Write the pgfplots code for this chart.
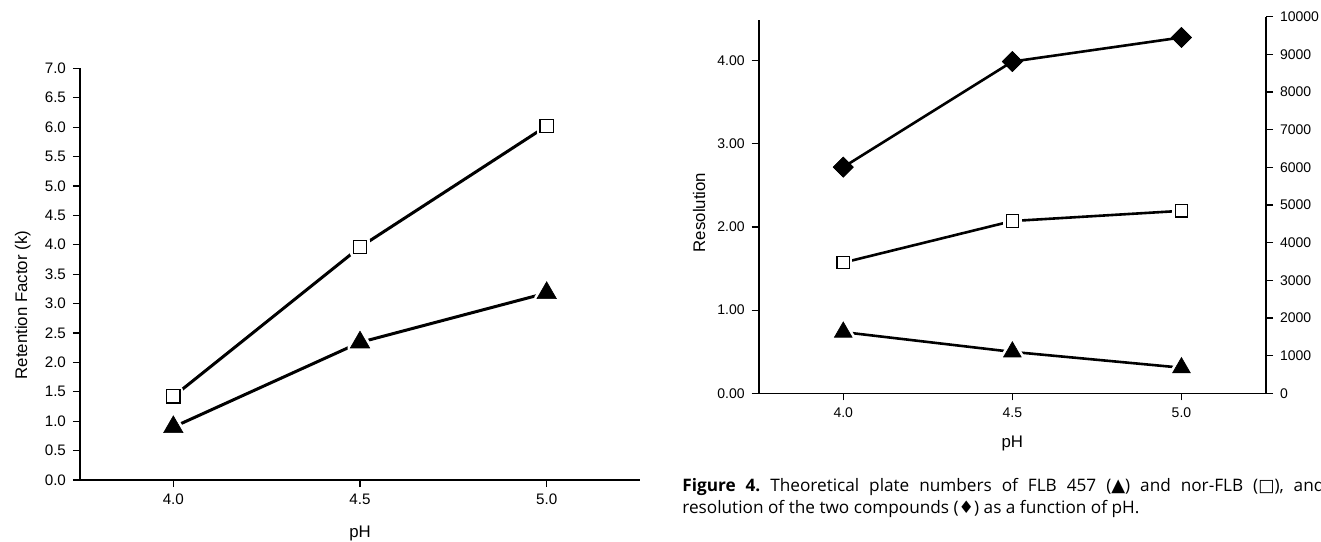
\documentclass[border=0pt]{standalone}
\usepackage{fontspec}
\setmainfont{Liberation Sans}
\newfontfamily\capfont{Open Sans}
\newfontfamily\symfont{DejaVu Sans}
\usepackage{pgfplots}
\pgfplotsset{compat=1.18}

\pgfplotsset{
  chart/.style={
    scale only axis, clip=false,
    axis x line=bottom, axis y line=left,
    axis line style={-, line width=0.8pt},
    tick align=outside, major tick length=3.5pt,
    tick style={line width=0.6pt, black},
    xmin=3.75, xmax=5.25, xtick={4,4.5,5},
    xticklabels={4.0,4.5,5.0},
    /pgf/number format/assume math mode=true,
  },
  halo/.style={only marks, mark options={draw=white, fill=white, line width=3pt, line join=round}},
}

\begin{document}
\frenchspacing
\begin{tikzpicture}
\useasboundingbox (0,0) rectangle (660.5pt,270.5pt);

% left chart: retention factor
\begin{axis}[chart, at={(40pt,30.5pt)}, anchor=south west,
  width=280pt, height=205.85pt,
  ymin=0, ymax=7, ytick={0,0.5,1,1.5,2,2.5,3,3.5,4,4.5,5,5.5,6,6.5,7},
  y tick label style={/pgf/number format/.cd, fixed, fixed zerofill, precision=1, /tikz/.cd},
  ticklabel style={font=\fontsize{7.6}{9}\selectfont},
  xlabel={pH}, ylabel={Retention Factor (k)},
  label style={font=\fontsize{8.4}{10}\selectfont},
  ylabel style={at={(axis description cs:-0.102,0.425)}, anchor=center},
  xlabel style={at={(axis description cs:0.5,-0.1385)}, anchor=base},
]
\addplot[line width=1.5pt] coordinates {(4.0,1.42) (4.5,3.96) (5.0,6.02)};
\addplot[line width=1.5pt] coordinates {(4.0,0.90) (4.5,2.34) (5.0,3.18)};
\addplot[halo, mark=square*, mark size=3.3pt] coordinates {(4.0,1.42) (4.5,3.96) (5.0,6.02)};
\addplot[halo, mark=triangle*, mark size=5.6pt] coordinates {(4.0,0.90) (4.5,2.34) (5.0,3.18)};
\addplot[only marks, mark=square*, mark size=3.3pt, mark options={draw=black, fill=white, line width=0.6pt}] coordinates {(4.0,1.42) (4.5,3.96) (5.0,6.02)};
\addplot[only marks, mark=triangle*, mark size=5.6pt, mark options={draw=black, fill=black, line width=0.3pt}] coordinates {(4.0,0.90) (4.5,2.34) (5.0,3.18)};
\end{axis}

% right chart: resolution (left axis)
\begin{axis}[chart, at={(379.35pt,73.85pt)}, anchor=south west,
  width=253.65pt, height=186.65pt,
  ymin=0, ymax=4.49, ytick={0,1,2,3,4},
  y tick label style={/pgf/number format/.cd, fixed, fixed zerofill, precision=2, /tikz/.cd},
  ticklabel style={font=\fontsize{7}{8}\selectfont},
  xlabel={pH}, ylabel={Resolution},
  label style={font=\fontsize{8.4}{10}\selectfont},
  ylabel style={at={(axis description cs:-0.1177,0.4843)}, anchor=center},
  xlabel style={at={(axis description cs:0.5,-0.1465)}, anchor=base},
]
\addplot[line width=1.3pt] coordinates {(4.0,2.72) (4.5,3.99) (5.0,4.28)};
\addplot[halo, mark=square*, mark size=3.5pt, mark options={rotate=45}] coordinates {(4.0,2.72) (4.5,3.99) (5.0,4.28)};
\addplot[only marks, mark=square*, mark size=3.5pt, mark options={rotate=45, draw=black, fill=black, line width=0.3pt}] coordinates {(4.0,2.72) (4.5,3.99) (5.0,4.28)};
\end{axis}

% right chart: plate numbers (right axis)
\begin{axis}[scale only axis, clip=false, at={(379.35pt,73.85pt)}, anchor=south west,
  width=253.65pt, height=188.3pt,
  xmin=3.75, xmax=5.25, axis x line=none, xtick=\empty,
  axis y line=right, axis line style={-, line width=0.8pt},
  tick align=outside, major tick length=3.5pt,
  tick style={line width=0.6pt, black},
  ymin=0, ymax=10000, ytick={0,1000,2000,3000,4000,5000,6000,7000,8000,9000,10000},
  scaled y ticks=false,
  /pgf/number format/assume math mode=true,
  y tick label style={/pgf/number format/.cd, fixed, 1000 sep={}, /tikz/.cd},
  ticklabel style={font=\fontsize{7}{8}\selectfont},
]
\addplot[line width=1.3pt] coordinates {(4.0,3470) (4.5,4575) (5.0,4845)};
\addplot[line width=1.3pt] coordinates {(4.0,1625) (4.5,1100) (5.0,680)};
\addplot[halo, mark=square*, mark size=3.1pt] coordinates {(4.0,3470) (4.5,4575) (5.0,4845)};
\addplot[halo, mark=triangle*, mark size=5.1pt] coordinates {(4.0,1625) (4.5,1100) (5.0,680)};
\addplot[only marks, mark=square*, mark size=3.1pt, mark options={draw=black, fill=white, line width=0.6pt}] coordinates {(4.0,3470) (4.5,4575) (5.0,4845)};
\addplot[only marks, mark=triangle*, mark size=5.1pt, mark options={draw=black, fill=black, line width=0.3pt}] coordinates {(4.0,1625) (4.5,1100) (5.0,680)};
\end{axis}

% caption, cut at the right edge as in the source
\begin{scope}
\clip (0,0) rectangle (660.5pt,270.5pt);
\node[anchor=base west, inner sep=0, font=\capfont\fontsize{8.6}{10}\selectfont] at (341pt,24.6pt)
  {\makebox[321pt][s]{\textbf{Figure 4.} Theoretical plate numbers of FLB 457 ({\symfont\small ▲}) and nor-FLB ({\symfont □}), and}};
\node[anchor=base west, inner sep=0, font=\capfont\fontsize{8.6}{10}\selectfont] at (341pt,14pt)
  {resolution of the two compounds ({\symfont ♦}) as a function of pH.};
\end{scope}
\end{tikzpicture}
\end{document}
